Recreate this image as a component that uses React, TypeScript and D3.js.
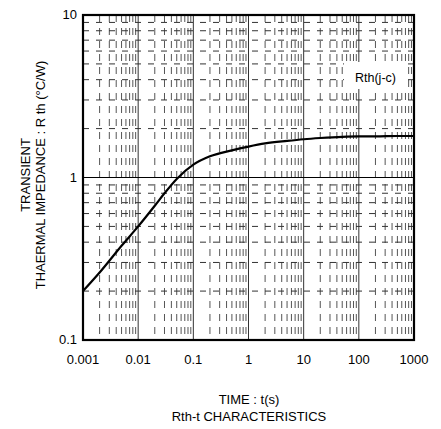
import React from "react";
import * as d3 from "d3";

const times = [0.001, 0.002, 0.005, 0.01, 0.02, 0.03, 0.05, 0.1, 0.2, 0.5, 1, 2, 5, 10, 20, 50, 100, 200, 500, 1000];
const rth = [0.2, 0.26, 0.38, 0.5, 0.67, 0.8, 0.98, 1.2, 1.35, 1.47, 1.55, 1.62, 1.68, 1.72, 1.75, 1.78, 1.79, 1.79, 1.8, 1.8];
const xTicks = [0.001, 0.01, 0.1, 1, 10, 100, 1000];
const xTickLabels = ["0.001", "0.01", "0.1", "1", "10", "100", "1000"];
const yTicks = [0.1, 1, 10];
const yTickLabels = ["0.1", "1", "10"];
const seriesLabel = "Rth(j-c)";
const xTitle = "TIME : t(s)";
const chartTitle = "Rth-t CHARACTERISTICS";
const yTitle1 = "TRANSIENT";
const yTitle2 = "THAERMAL IMPEDANCE : R th (°C/W)";

export default function App() {
  const W = 441, H = 429;
  const L = 83, R = 414, T = 15, B = 340;
  const x = d3.scaleLog().domain([0.001, 1000]).range([L, R]);
  const y = d3.scaleLog().domain([0.1, 10]).range([B, T]);
  const font = "'Liberation Sans', Arial, sans-serif";

  const minorX: number[] = [];
  for (let e = -3; e < 3; e++) for (let m = 2; m <= 9; m++) minorX.push(m * Math.pow(10, e));
  const minorY: number[] = [];
  for (let e = -1; e < 1; e++) for (let m = 2; m <= 9; m++) minorY.push(m * Math.pow(10, e));

  const line = d3.line<number>().x((_, i) => x(times[i])).y((d) => y(d)).curve(d3.curveMonotoneX);

  return (
    <svg width={W} height={H} style={{ position: "absolute", left: 0, top: 0 }}>
      <rect x={0} y={0} width={W} height={H} fill="#fff" />
      {minorX.map((v, i) => (
        <line key={"vx" + i} x1={x(v)} x2={x(v)} y1={T} y2={B} stroke="#555" strokeWidth={1} strokeDasharray="7,6" />
      ))}
      {minorY.map((v, i) => (
        <line key={"hy" + i} x1={L} x2={R} y1={y(v)} y2={y(v)} stroke="#333" strokeWidth={1} strokeDasharray="6,7" />
      ))}
      {xTicks.slice(1, -1).map((v, i) => (
        <line key={"mx" + i} x1={x(v)} x2={x(v)} y1={T} y2={B} stroke="#333" strokeWidth={1} />
      ))}
      <line x1={L} x2={R} y1={y(1)} y2={y(1)} stroke="#000" strokeWidth={1.2} />
      <rect x={344} y={62} width={64} height={27} fill="#fff" />
      <text x={355} y={82} fontFamily={font} fontSize={12.5} fill="#000">{seriesLabel}</text>
      <path d={line(rth) || ""} fill="none" stroke="#000" strokeWidth={2.2} />
      <rect x={L} y={T} width={R - L} height={B - T} fill="none" stroke="#000" strokeWidth={2.2} />
      {xTicks.map((v, i) => (
        <text key={"xt" + i} x={x(v)} y={364} textAnchor="middle" fontFamily={font} fontSize={13} fill="#000">{xTickLabels[i]}</text>
      ))}
      {yTicks.map((v, i) => (
        <text key={"yt" + i} x={L - 6} y={y(v) + 4} textAnchor="end" fontFamily={font} fontSize={13} fill="#000">{yTickLabels[i]}</text>
      ))}
      <text x={249} y={404} textAnchor="middle" fontFamily={font} fontSize={13} fill="#000">{xTitle}</text>
      <text x={249} y={421} textAnchor="middle" fontFamily={font} fontSize={13} fill="#000">{chartTitle}</text>
      <text transform={`translate(30,175) rotate(-90)`} textAnchor="middle" fontFamily={font} fontSize={13} fill="#000">{yTitle1}</text>
      <text transform={`translate(45,175) rotate(-90)`} textAnchor="middle" fontFamily={font} fontSize={13} fill="#000">{yTitle2}</text>
    </svg>
  );
}
